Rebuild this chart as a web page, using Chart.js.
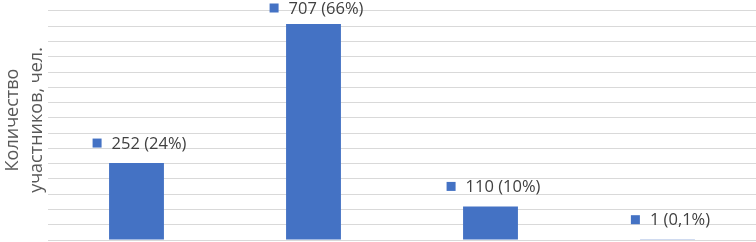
<!DOCTYPE html>
<html>
<head>
<meta charset="utf-8">
<script src="https://cdn.jsdelivr.net/npm/chart.js@4"></script>
<style>
  html, body { margin: 0; padding: 0; background: #fff; }
  #wrap { width: 756px; height: 242px; }
</style>
</head>
<body>
<div id="wrap"><canvas id="chart"></canvas></div>
<script>
// groups (axis labels are cropped off in the source picture)
var categories = ['Группа 1', 'Группа 2', 'Группа 3', 'Группа 4'];
var participants = [252, 707, 110, 1];
var shares = ['24%', '66%', '10%', '0,1%'];
var axisTitle = ['Количество', 'участников, чел.'];

var barColor = '#4472C4';

// data label: small colour key + "value (share)"
var labelPlugin = {
    id: 'barLabels',
    afterDatasetsDraw: function (chart) {
        var ctx = chart.ctx;
        var meta = chart.getDatasetMeta(0);
        ctx.save();
        ctx.font = '16.5px "Open Sans"';
        ctx.textBaseline = 'middle';
        meta.data.forEach(function (bar, i) {
            var text = participants[i] + ' (' + shares[i] + ')';
            var tw = ctx.measureText(text).width;
            var box = 9, gap = 10;
            var total = box + gap + tw;
            var x0 = bar.x + 3 - total / 2;
            var y = Math.max(bar.y - 19, 9);
            ctx.fillStyle = barColor;
            ctx.fillRect(x0, y - box / 2 - 1, box, box);
            ctx.fillStyle = '#404040';
            ctx.textAlign = 'left';
            ctx.fillText(text, x0 + box + gap, y);
        });
        ctx.restore();
    }
};

new Chart(document.getElementById('chart'), {
    type: 'bar',
    data: {
        labels: categories,
        datasets: [{
            data: participants,
            backgroundColor: barColor,
            barPercentage: 0.31,
            categoryPercentage: 1
        }]
    },
    options: {
        responsive: true,
        maintainAspectRatio: false,
        animation: false,
        layout: { padding: { top: 0, bottom: 2, left: 0, right: 0 } },
        plugins: {
            legend: { display: false },
            tooltip: { enabled: false }
        },
        scales: {
            x: { display: false },
            y: {
                min: 0,
                max: 786,
                afterFit: function (scale) { scale.width = 48; },
                border: { display: false },
                grid: { color: '#d9d9d9', lineWidth: 1, drawTicks: false },
                ticks: { display: false, stepSize: 50, includeBounds: false },
                title: {
                    display: true,
                    text: axisTitle,
                    color: '#595959',
                    font: { family: '"Open Sans"', size: 18, lineHeight: 1.33 },
                    padding: { top: 1, bottom: 0 }
                }
            }
        }
    },
    plugins: [labelPlugin]
});
</script>
</body>
</html>
